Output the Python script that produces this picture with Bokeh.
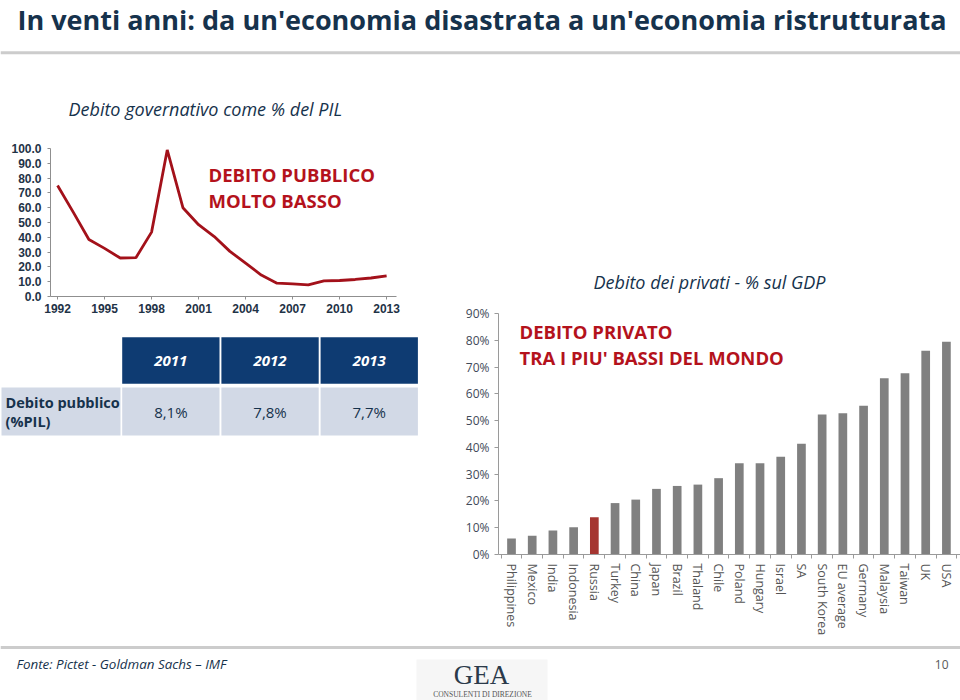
from bokeh.plotting import figure
from bokeh.layouts import column, row
from bokeh.models import Range1d, FixedTicker, NumeralTickFormatter, PrintfTickFormatter, ColumnDataSource
from bokeh.core.properties import value
from bokeh.embed import file_html
from bokeh.resources import INLINE

# ---------------- data ----------------
slide_title = "In venti anni: da un'economia disastrata a un'economia ristrutturata"

gov_title = "Debito governativo come % del PIL"
gov_note = ["DEBITO PUBBLICO", "MOLTO BASSO"]
gov_years = [1992, 1993, 1994, 1995, 1996, 1997, 1998, 1999, 2000, 2001, 2002,
             2003, 2004, 2005, 2006, 2007, 2008, 2009, 2010, 2011, 2012, 2013]
gov_debt = [75.0, 57.0, 38.5, 32.5, 26.0, 26.2, 43.5, 99.0, 60.0, 48.5, 40.5,
            30.5, 22.5, 14.5, 9.0, 8.5, 7.8, 10.5, 10.8, 11.5, 12.5, 14.0]
gov_year_ticks = [1992, 1995, 1998, 2001, 2004, 2007, 2010, 2013]
gov_value_ticks = [0, 10, 20, 30, 40, 50, 60, 70, 80, 90, 100]

table_years = ["2011", "2012", "2013"]
table_values = ["8,1%", "7,8%", "7,7%"]
table_row_label = ["Debito pubblico", "(%PIL)"]

priv_title = "Debito dei privati - % sul GDP"
priv_note = ["DEBITO PRIVATO", "TRA I PIU' BASSI DEL MONDO"]
countries = ["Philippines", "Mexico", "India", "Indonesia", "Russia", "Turkey", "China",
             "Japan", "Brazil", "Thaland", "Chile", "Poland", "Hungary", "Israel", "SA",
             "South Korea", "EU average", "Germany", "Malaysia", "Taiwan", "UK", "USA"]
private_debt = [6.0, 7.0, 9.0, 10.2, 13.9, 19.2, 20.5, 24.5, 25.6, 26.1, 28.5,
                34.1, 34.1, 36.5, 41.4, 52.3, 52.7, 55.5, 65.8, 67.7, 76.1, 79.4]
highlight_country = "Russia"
priv_value_ticks = [0, 10, 20, 30, 40, 50, 60, 70, 80, 90]

source_note = "Fonte: Pictet - Goldman Sachs \u2013 IMF"
page_number = "10"
logo_text = ["GEA", "CONSULENTI DI DIREZIONE"]

# ---------------- style ----------------
NAVY = "#16324c"
RED = "#b4121c"
LINE_RED = "#a3111a"
HEADER = "#0e3b72"
CELL = "#d2d9e6"
OPEN = value("Open Sans")
SERIF = value("Liberation Serif")


def canvas(w, h, x0, x1, ytop, ybot):
    p = figure(width=w, height=h, x_range=Range1d(x0, x1), y_range=Range1d(ybot, ytop),
               output_backend="svg", toolbar_location=None, min_border=0, frame_align=False,
               x_axis_location=None, y_axis_location=None, outline_line_color=None)
    p.grid.visible = False
    return p


# ---------------- title ----------------
title_fig = canvas(960, 60, 0, 960, 0, 60)
title_fig.text(x=[17], y=[18.6], text=[slide_title], text_font=OPEN, text_font_style="bold",
               text_font_size="27px", text_color=NAVY, text_baseline="middle", text_align="left")
title_fig.segment(x0=[0], y0=[52.3], x1=[960], y1=[52.3], line_color="#cccccc", line_width=3)

# ---------------- line chart ----------------
LX0, LPX = 1991.55, 15.67
line_fig = figure(width=460, height=262, x_range=Range1d(LX0, LX0 + 410 / LPX),
                  y_range=Range1d(0, 236 / 1.48), output_backend="svg", toolbar_location=None,
                  min_border=0, min_border_left=50, min_border_bottom=26, frame_align=False,
                  outline_line_color=None)
line_fig.grid.visible = False
src = ColumnDataSource(dict(year=gov_years, debt=gov_debt))
line_fig.line(x="year", y="debt", source=src, line_color=LINE_RED, line_width=2.8)

xa = line_fig.xaxis[0]
xa.ticker = FixedTicker(ticks=gov_year_ticks)
xa.bounds = (LX0, 2013.6)
ya = line_fig.yaxis[0]
ya.ticker = FixedTicker(ticks=gov_value_ticks)
ya.formatter = NumeralTickFormatter(format="0.0")
ya.bounds = (0, 100)
for ax in (xa, ya):
    ax.axis_line_color = "#8f8f8f"
    ax.major_tick_line_color = "#8f8f8f"
    ax.major_tick_out = 3
    ax.major_tick_in = 0
    ax.minor_tick_line_color = None
    ax.major_label_text_font = "Liberation Sans"
    ax.major_label_text_font_style = "bold"
    ax.major_label_text_font_size = "12px"
    ax.major_label_text_color = "#1f3347"
xa.major_label_standoff = 4
ya.major_label_standoff = 6

line_fig.text(x=[LX0 + 18 / LPX], y=[(296 - 108) / 1.48], text=[gov_title], text_font=OPEN,
              text_font_style="italic", text_font_size="18px", text_color=NAVY,
              text_baseline="middle", text_align="left")
line_fig.text(x=[LX0 + 158 / LPX] * 2, y=[(296 - 174) / 1.48, (296 - 200) / 1.48], text=gov_note,
              text_font=OPEN, text_font_style="bold", text_font_size="18.5px", text_color=RED,
              text_baseline="middle", text_align="left")

# ---------------- table ----------------
table_fig = canvas(460, 318, 0, 460, 322, 640)
ncol = len(table_years)
col_left = [121.7 + i * 99.2 for i in range(ncol)]
col_right = [l + 97.3 for l in col_left]
col_mid = [(l + r) / 2 for l, r in zip(col_left, col_right)]
table_fig.quad(left=col_left, right=col_right, top=[336.7] * ncol, bottom=[383.3] * ncol,
               fill_color=HEADER, line_color=None)
table_fig.quad(left=[1] + col_left, right=[120] + col_right, top=[387] * (ncol + 1),
               bottom=[435] * (ncol + 1), fill_color=CELL, line_color=None)
table_fig.text(x=col_mid, y=[360] * ncol, text=table_years, text_font=OPEN,
               text_font_style="bold italic", text_font_size="15px", text_color="white",
               text_baseline="middle", text_align="center")
table_fig.text(x=col_mid, y=[411] * ncol, text=table_values, text_font=OPEN,
               text_font_size="15px", text_color=NAVY, text_baseline="middle", text_align="center")
table_fig.text(x=[5, 5], y=[401.5, 420.5], text=table_row_label, text_font=OPEN,
               text_font_style="bold", text_font_size="14.5px", text_color=NAVY,
               text_baseline="middle", text_align="left")

# ---------------- bar chart ----------------
n = len(countries)
idx = list(range(n))
BPX, BX0, BPY = 20.71, 511, 2.678
bar_fig = figure(width=500, height=580, x_range=Range1d(-(BX0 - 498) / BPX, (960 - BX0) / BPX),
                 y_range=Range1d(0, 494 / BPY), output_backend="svg", toolbar_location=None,
                 min_border=0, min_border_left=38, min_border_bottom=86, frame_align=False,
                 outline_line_color=None)
bar_fig.grid.visible = False
bar_colors = ["#a53530" if c == highlight_country else "#808080" for c in countries]
bsrc = ColumnDataSource(dict(x=idx, top=private_debt, color=bar_colors, name=countries))
bar_fig.vbar(x="x", top="top", width=0.42, fill_color="color", line_color=None, source=bsrc)

bx = bar_fig.xaxis[0]
bx.ticker = FixedTicker(ticks=idx, minor_ticks=[i - 0.5 for i in range(n + 1)])
bx.major_label_overrides = {i: c for i, c in zip(idx, countries)}
bx.major_label_orientation = "vertical"
bx.major_tick_out = 0
bx.major_tick_in = 0
bx.minor_tick_out = 4
bx.minor_tick_in = 0
bx.minor_tick_line_color = "#9a9a9a"
bx.major_label_standoff = 5
bx.major_label_text_font = "Open Sans"
bx.major_label_text_font_size = "12.5px"
bx.major_label_text_color = "#555555"
by = bar_fig.yaxis[0]
by.ticker = FixedTicker(ticks=priv_value_ticks)
by.formatter = PrintfTickFormatter(format="%d%%")
by.bounds = (0, 90)
by.major_tick_out = 4
by.major_tick_in = 0
by.minor_tick_line_color = None
by.major_tick_line_color = "#9a9a9a"
by.major_label_standoff = 5
by.major_label_text_font = "Open Sans"
by.major_label_text_font_size = "12px"
by.major_label_text_color = "#3f4a59"
for ax in (bx, by):
    ax.axis_line_color = "#9a9a9a"

bar_fig.text(x=[(593 - BX0) / BPX], y=[(554 - 281) / BPY], text=[priv_title], text_font=OPEN,
             text_font_style="italic", text_font_size="18px", text_color=NAVY,
             text_baseline="middle", text_align="left")
bar_fig.text(x=[(519 - BX0) / BPX] * 2, y=[(554 - 331) / BPY, (554 - 357) / BPY], text=priv_note,
             text_font=OPEN, text_font_style="bold", text_font_size="18.5px", text_color=RED,
             text_baseline="middle", text_align="left")

# ---------------- footer ----------------
foot_fig = canvas(960, 60, 0, 960, 640, 700)
foot_fig.segment(x0=[0], y0=[647], x1=[960], y1=[647], line_color="#cccccc", line_width=3)
foot_fig.quad(left=[416], right=[547], top=[659], bottom=[700], fill_color="#f6f6f6", line_color=None)
foot_fig.text(x=[16], y=[663], text=[source_note], text_font=OPEN, text_font_style="italic",
              text_font_size="13.4px", text_color=NAVY, text_baseline="middle", text_align="left")
foot_fig.text(x=[948], y=[664], text=[page_number], text_font=OPEN, text_font_size="12px",
              text_color="#595959", text_baseline="middle", text_align="right")
foot_fig.text(x=[481], y=[674], text=[logo_text[0]], text_font=SERIF, text_font_size="27px",
              text_color="#2b3a4a", text_baseline="middle", text_align="center")
foot_fig.text(x=[482], y=[693.5], text=[logo_text[1]], text_font=SERIF, text_font_size="7.5px",
              text_color="#555555", text_baseline="middle", text_align="center")

layout = column(title_fig, row(column(line_fig, table_fig), bar_fig), foot_fig)

open("out.html", "w").write(file_html(layout, INLINE))
